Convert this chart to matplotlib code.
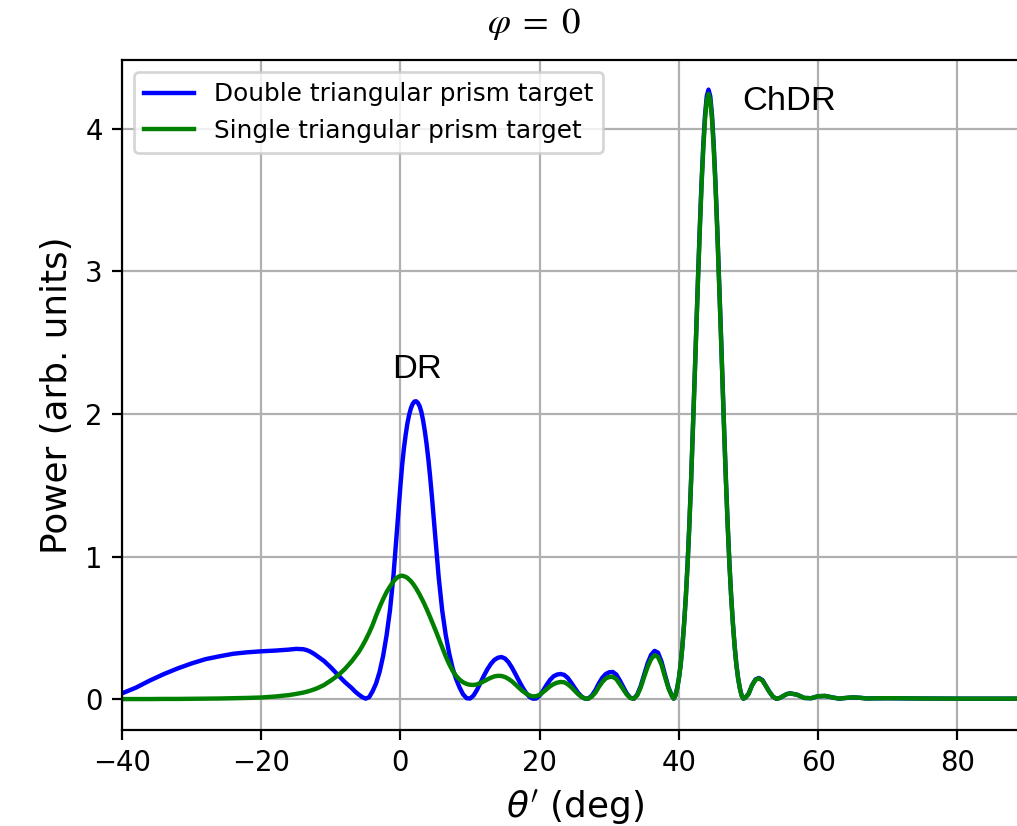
import matplotlib
matplotlib.use("Agg")
import matplotlib.pyplot as plt

# ---- data (segments of the theta' axis) ----
theta_a = [-40, -38, -36, -34, -32, -30, -28, -26, -24, -22, -20, -18, -16, -15, -14, -13.5, -13, -12.5, -12,
           -11, -10, -9, -8, -7]
double_a = [0.04, 0.08, 0.13, 0.175, 0.215, 0.25, 0.28, 0.30, 0.318, 0.328, 0.335, 0.34, 0.347, 0.352, 0.35,
            0.344, 0.334, 0.32, 0.303, 0.268, 0.222, 0.17, 0.12, 0.077]
single_a = [0.0, 0.0, 0.0, 0.001, 0.001, 0.002, 0.003, 0.004, 0.006, 0.008, 0.011, 0.018, 0.028, 0.036, 0.045,
            0.051, 0.058, 0.066, 0.075, 0.098, 0.13, 0.165, 0.21, 0.265]

theta_b = [-6.5, -6, -5.5, -5, -4.5, -4, -3.5, -3, -2.5, -2, -1.5]
double_b = [0.052, 0.032, 0.014, 0.003, 0.013, 0.055, 0.11, 0.19, 0.30, 0.445, 0.625]
single_b = [0.297, 0.33, 0.37, 0.415, 0.465, 0.52, 0.585, 0.645, 0.70, 0.75, 0.79]

theta_c = [-1, -0.75, -0.5, -0.25, 0, 0.25, 0.5, 0.75, 1, 1.25, 1.5, 1.75, 2, 2.25, 2.5, 2.75, 3, 3.25, 3.5,
           3.75, 4, 4.25, 4.5, 4.75, 5]
double_c = [0.87, 1.025, 1.185, 1.345, 1.50, 1.645, 1.76, 1.855, 1.935, 1.995, 2.04, 2.07, 2.087, 2.089, 2.078,
            2.055, 2.015, 1.955, 1.88, 1.79, 1.685, 1.565, 1.43, 1.285, 1.135]
single_c = [0.825, 0.84, 0.851, 0.859, 0.864, 0.865, 0.862, 0.857, 0.85, 0.839, 0.827, 0.812, 0.795, 0.776,
            0.755, 0.733, 0.71, 0.686, 0.66, 0.633, 0.605, 0.576, 0.547, 0.517, 0.487]

theta_d = [5.5, 6, 6.5, 7, 7.5, 8, 8.5, 9, 9.5, 10, 10.5, 11, 11.5, 12, 12.5, 13, 13.5, 14, 14.5, 15, 15.5,
           16, 16.5, 17, 17.5, 18, 18.5, 19, 19.5, 20, 20.5, 21, 21.5, 22, 22.5, 23, 23.5, 24, 24.5, 25, 25.5,
           26, 26.5, 27, 27.5, 28, 28.5, 29, 29.5, 30, 30.5, 31, 31.5, 32, 32.5, 33, 33.5, 34, 34.5, 35, 35.5,
           36, 36.5, 37, 37.5, 38, 38.5, 39]
double_d = [0.85, 0.62, 0.45, 0.32, 0.215, 0.14, 0.08, 0.033, 0.006, 0.004, 0.025, 0.065, 0.115, 0.165, 0.21,
            0.248, 0.275, 0.29, 0.295, 0.285, 0.26, 0.222, 0.177, 0.13, 0.085, 0.046, 0.017, 0.003, 0.004,
            0.025, 0.06, 0.10, 0.135, 0.16, 0.172, 0.176, 0.17, 0.15, 0.117, 0.08, 0.045, 0.018, 0.003, 0.004,
            0.025, 0.062, 0.11, 0.15, 0.176, 0.188, 0.19, 0.172, 0.132, 0.085, 0.04, 0.01, 0.002, 0.03, 0.09,
            0.17, 0.25, 0.31, 0.338, 0.325, 0.262, 0.17, 0.082, 0.022]
single_d = [0.425, 0.362, 0.30, 0.245, 0.198, 0.162, 0.136, 0.118, 0.106, 0.10, 0.099, 0.103, 0.113, 0.125,
            0.138, 0.15, 0.159, 0.163, 0.162, 0.155, 0.142, 0.125, 0.103, 0.08, 0.058, 0.04, 0.026, 0.019,
            0.02, 0.03, 0.049, 0.07, 0.09, 0.105, 0.115, 0.12, 0.118, 0.105, 0.085, 0.06, 0.035, 0.015, 0.004,
            0.003, 0.018, 0.045, 0.085, 0.12, 0.145, 0.155, 0.156, 0.14, 0.105, 0.068, 0.032, 0.008, 0.002,
            0.025, 0.08, 0.155, 0.225, 0.28, 0.308, 0.295, 0.24, 0.155, 0.075, 0.02]

theta_e = [39.25, 39.5, 39.75, 40, 40.25, 40.5, 40.75, 41, 41.25, 41.5, 41.75, 42, 42.25, 42.5, 42.75, 43,
           43.25, 43.5, 43.75, 44, 44.25, 44.5, 44.75, 45, 45.25, 45.5, 45.75, 46, 46.25, 46.5, 46.75, 47,
           47.25, 47.5, 47.75, 48, 48.25, 48.5, 48.75, 49, 49.25, 49.5]
double_e = [0.003, 0.026, 0.077, 0.148, 0.243, 0.374, 0.535, 0.726, 0.957, 1.23, 1.54, 1.883, 2.245, 2.618,
            2.971, 3.313, 3.625, 3.887, 4.098, 4.229, 4.275, 4.229, 4.098, 3.887, 3.625, 3.313, 2.971, 2.618,
            2.245, 1.883, 1.54, 1.23, 0.957, 0.726, 0.535, 0.374, 0.243, 0.148, 0.077, 0.026, 0.003, 0.008]
single_e = [0.003, 0.025, 0.075, 0.145, 0.24, 0.37, 0.53, 0.72, 0.95, 1.22, 1.53, 1.87, 2.23, 2.60, 2.95,
            3.29, 3.60, 3.86, 4.07, 4.20, 4.245, 4.20, 4.07, 3.86, 3.60, 3.29, 2.95, 2.60, 2.23, 1.87, 1.53,
            1.22, 0.95, 0.72, 0.53, 0.37, 0.24, 0.145, 0.075, 0.025, 0.003, 0.008]

theta_f = [50, 50.5, 51, 51.5, 52, 52.5, 53, 53.5, 54, 54.5, 55, 55.5, 56,
           57, 58, 59, 60, 61, 62, 63, 64, 65, 66, 67, 68, 70, 75, 80, 85, 90]
double_f = [0.036, 0.097, 0.138, 0.148, 0.133, 0.092, 0.051, 0.017, 0.002, 0.008, 0.022, 0.035, 0.04,
            0.03, 0.008, 0.006, 0.02, 0.022, 0.012, 0.003, 0.008, 0.012, 0.009, 0.004, 0.005, 0.006, 0.004,
            0.003, 0.003, 0.003]
single_f = [0.035, 0.095, 0.135, 0.145, 0.13, 0.09, 0.05, 0.017, 0.002, 0.008, 0.022, 0.035, 0.04,
            0.03, 0.008, 0.006, 0.02, 0.022, 0.012, 0.003, 0.008, 0.012, 0.009, 0.004, 0.005, 0.006, 0.004,
            0.003, 0.003, 0.003]

theta = theta_a + theta_b + theta_c + theta_d + theta_e + theta_f
power_double = double_a + double_b + double_c + double_d + double_e + double_f
power_single = single_a + single_b + single_c + single_d + single_e + single_f
assert len(theta) == len(power_double) == len(power_single), (len(theta), len(power_double), len(power_single))

series_labels = ["Double triangular prism target", "Single triangular prism target"]
x_ticks = [-40, -20, 0, 20, 40, 60, 80]
y_ticks = [0, 1, 2, 3, 4]
peak_labels = ["DR", "ChDR"]
peak_label_pos = [(2.4, 2.31), (55.8, 4.19)]

# ---- figure ----
DPI = 198
fig = plt.figure(figsize=(1018 / DPI, 826 / DPI), dpi=DPI)
ax = fig.add_axes([122 / 1018, 1 - 729.5 / 826, 905 / 1018, (729.5 - 60) / 826])

ax.plot(theta, power_double, color="blue", lw=1.6, label=series_labels[0])
ax.plot(theta, power_single, color="green", lw=1.6, label=series_labels[1])

ax.set_xlim(-40, 90)
ax.set_ylim(-0.2135, 4.483)
ax.set_xticks(x_ticks)
ax.set_yticks(y_ticks)
ax.grid(True)
ax.tick_params(labelsize=10)

ax.set_xlabel(r"$\theta'$ (deg)", fontsize=13)
ax.set_ylabel("Power (arb. units)", fontsize=13)

ax.legend(loc="upper left", fontsize=9)

for txt, (tx, ty) in zip(peak_labels, peak_label_pos):
    ax.text(tx, ty, txt, ha="center", va="center", fontsize=12.5, family="Liberation Sans")

fig.text(534 / 1018, 1 - 24 / 826, r"$\varphi\;=\;0$", ha="center", va="center",
         fontsize=13.5, math_fontfamily="stix")

fig.savefig("out.png", dpi=DPI)
